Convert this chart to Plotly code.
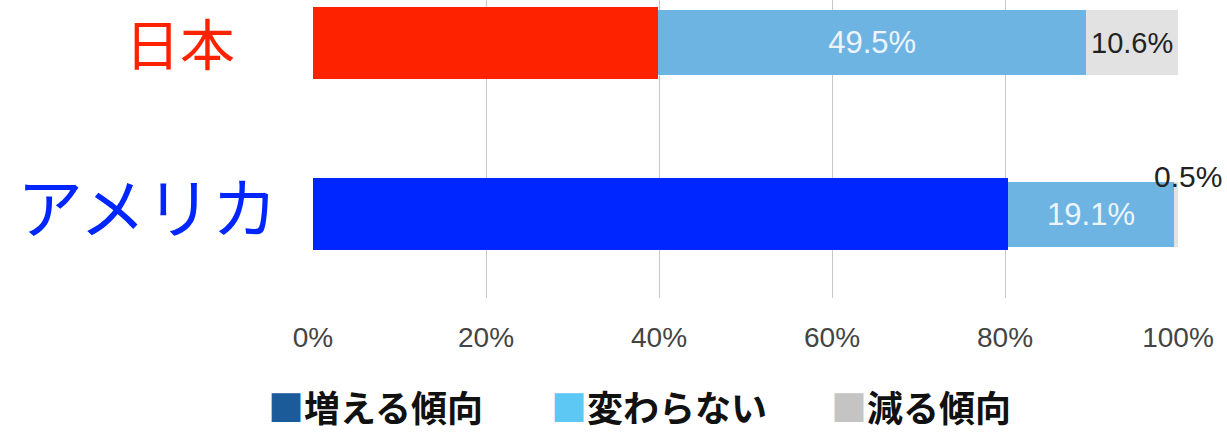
import plotly.graph_objects as go

categories = ["アメリカ", "日本"]
increase = [80.4, 39.9]
nochange = [19.1, 49.5]
decrease = [0.5, 10.6]
series_names = ["増える傾向", "変わらない", "減る傾向"]
tick_vals = [0, 20, 40, 60, 80, 100]
tick_text = ["0%", "20%", "40%", "60%", "80%", "100%"]

cat_colors = {"日本": "#ff2200", "アメリカ": "#0026ff"}
legend_colors = ["#1b5b9a", "#5ec8f5", "#c4c4c4"]
FONT = "Liberation Sans, Arial, sans-serif"
CJK = "Noto Sans CJK JP"

fig = go.Figure()
fig.add_trace(go.Bar(
    y=categories, x=increase, orientation="h", name=series_names[0],
    marker=dict(color=[cat_colors[c] for c in categories], line=dict(width=0)),
    width=0.42, hoverinfo="x",
))
fig.add_trace(go.Bar(
    y=categories, x=nochange, orientation="h", name=series_names[1],
    marker=dict(color="#6db4e3", line=dict(width=0)),
    width=0.38,
    text=[f"{v:.1f}%" for v in nochange], textposition="inside",
    insidetextanchor="middle", constraintext="none",
    textfont=dict(family=FONT, size=31, color="#eef4fb"),
))
fig.add_trace(go.Bar(
    y=categories, x=decrease, orientation="h", name=series_names[2],
    marker=dict(color="#e2e2e2", line=dict(width=0)),
    width=0.38,
    text=["" if v < 2 else f"{v:.1f}%" for v in decrease], textposition="inside",
    insidetextanchor="middle", constraintext="none",
    textfont=dict(family=FONT, size=29, color="#222222"),
))

# small value label above the thin segment
for c, a, b, d in zip(categories, increase, nochange, decrease):
    if d < 2:
        fig.add_annotation(x=a + b + d, y=c, xref="x", yref="y", text=f"{d:.1f}%",
                           showarrow=False, xanchor="left", xshift=-26, yshift=38,
                           font=dict(family=FONT, size=30, color="#222222"))

# category labels
label_x = {"日本": -0.154, "アメリカ": -0.191}
label_size = {"日本": 55, "アメリカ": 66}
label_shift = {"日本": 2, "アメリカ": 10}
for c in categories:
    fig.add_annotation(x=label_x[c], y=c, xref="paper", yref="y", text=c,
                       showarrow=False, xanchor="center", yanchor="middle",
                       yshift=label_shift[c],
                       font=dict(family=CJK, size=label_size[c], color=cat_colors[c]))

# legend as text
leg_px = [266, 549, 829]
for name, col, px in zip(series_names, legend_colors, leg_px):
    fig.add_annotation(x=(px - 313) / 865, y=-0.362, xref="paper", yref="paper",
                       text=f'<span style="color:{col}">■</span>{name}',
                       showarrow=False, xanchor="left", yanchor="middle",
                       font=dict(family=CJK, size=36, color="#111111", weight="bold"))

fig.update_layout(
    barmode="stack", width=1227, height=435, showlegend=False,
    margin=dict(l=313, r=49, t=0, b=137),
    paper_bgcolor="white", plot_bgcolor="white",
    xaxis=dict(range=[0, 100], tickvals=tick_vals, ticktext=tick_text,
               showgrid=True, gridcolor="#c8c8c8", gridwidth=1, zeroline=False,
               ticks="", ticklabelstandoff=20,
               tickfont=dict(family=FONT, size=28, color="#444444"), fixedrange=True),
    yaxis=dict(categoryorder="array", categoryarray=categories,
               range=[-0.491, 1.251], showticklabels=False, showgrid=False,
               zeroline=False, fixedrange=True),
)

fig.write_html("out.html", config={"displayModeBar": False},
               post_script="document.body.style.margin='0px';")
